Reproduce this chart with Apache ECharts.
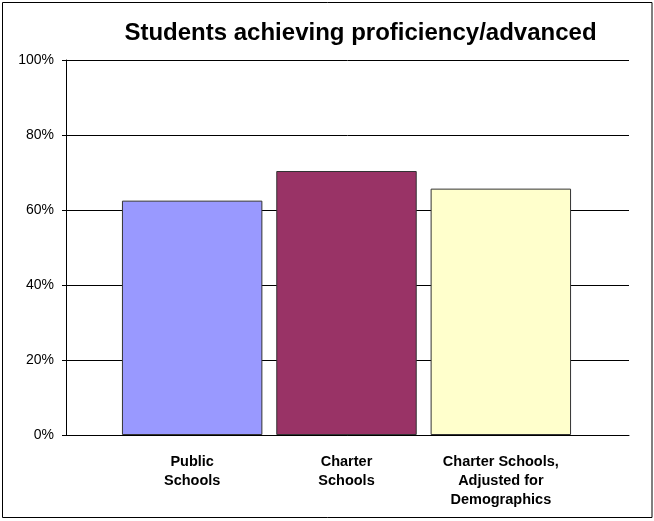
<!DOCTYPE html>
<html>
<head>
<meta charset="utf-8">
<script src="https://cdn.jsdelivr.net/npm/echarts@6/dist/echarts.min.js"></script>
<style>
html,body{margin:0;padding:0;background:#fff;}
#chart{width:654px;height:521px;}
</style>
</head>
<body>
<div id="chart"></div>
<script>
const titleText = 'Students achieving proficiency/advanced';
const categories = ['Public\nSchools', 'Charter\nSchools', 'Charter Schools,\nAdjusted for\nDemographics'];
const values = [62.5, 70.4, 65.7];
const barColors = ['#9999FF', '#993366', '#FFFFCC'];
const yTicks = [0, 20, 40, 60, 80, 100];

const chart = echarts.init(document.getElementById('chart'), null, {renderer: 'canvas'});
const font = 'Arial, "Liberation Sans", sans-serif';
chart.setOption({
  backgroundColor: '#fff',
  animation: false,
  title: {
    text: titleText,
    left: 355.5,
    textAlign: 'center',
    top: 16,
    textStyle: {fontFamily: font, fontSize: 24, fontWeight: 'bold', color: '#000'}
  },
  graphic: [{
    type: 'rect',
    shape: {x: 2.5, y: 2.5, width: 649.5, height: 515},
    style: {fill: 'none', stroke: '#000', lineWidth: 1},
    silent: true
  }],
  grid: [
    {left: 66, right: 25, top: 60, bottom: 86},
    {left: 115, right: 76, top: 60, bottom: 86}
  ],
  xAxis: [
    {
      gridIndex: 0, type: 'value', min: 0, max: 1,
      axisLine: {show: true, lineStyle: {color: '#000', width: 1}},
      axisTick: {show: false}, axisLabel: {show: false}, splitLine: {show: false}
    },
    {
      gridIndex: 1, type: 'category', data: categories,
      axisLine: {show: false}, axisTick: {show: false},
      axisLabel: {
        interval: 0, margin: 17, lineHeight: 19,
        fontFamily: font, fontSize: 14.5, fontWeight: 'bold', color: '#000', align: 'center'
      }
    }
  ],
  yAxis: [
    {
      gridIndex: 0, type: 'value', min: yTicks[0], max: yTicks[yTicks.length - 1], interval: 20,
      axisLine: {show: true, lineStyle: {color: '#000', width: 1}},
      axisTick: {show: true, inside: false, length: 4, lineStyle: {color: '#000'}},
      axisLabel: {
        margin: 12, formatter: '{value}%',
        fontFamily: font, fontSize: 14, color: '#000'
      },
      splitLine: {show: true, lineStyle: {color: '#000', width: 1}}
    },
    {
      gridIndex: 1, type: 'value', min: 0, max: 100, interval: 20,
      show: false, splitLine: {show: false}
    }
  ],
  series: [{
    type: 'bar',
    xAxisIndex: 1, yAxisIndex: 1,
    data: values,
    barCategoryGap: '9%',
    itemStyle: {
      color: p => barColors[p.dataIndex],
      borderColor: '#333', borderWidth: 1
    }
  }]
});
</script>
</body>
</html>
